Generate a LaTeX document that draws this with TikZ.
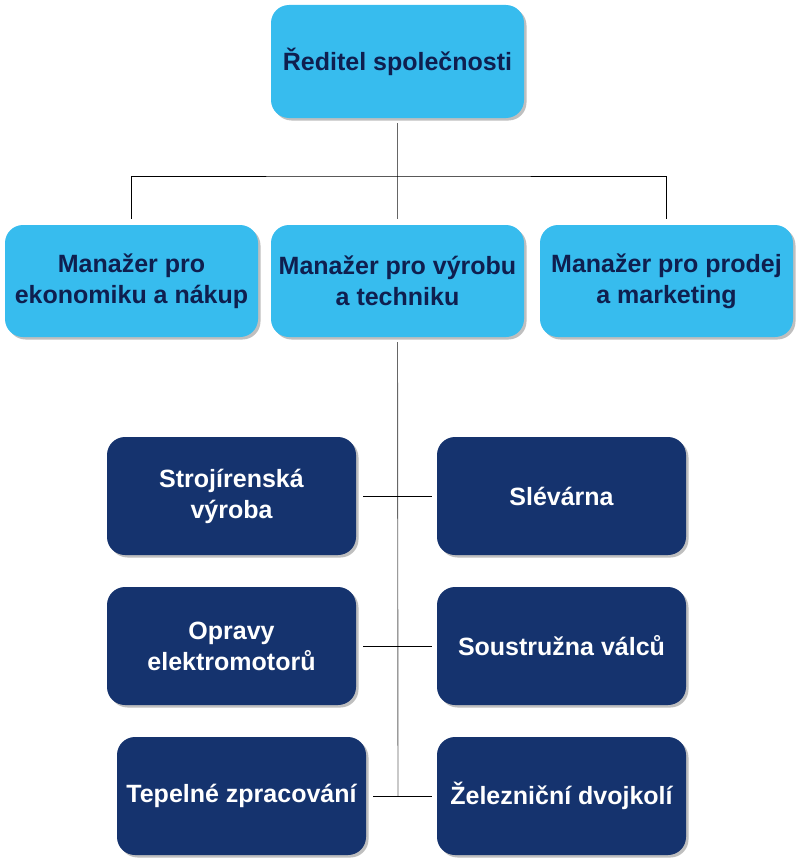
\documentclass[tikz,border=0pt]{standalone}
\usepackage{fontspec}
\setmainfont{Liberation Sans}
\usepackage{tikz}
\usetikzlibrary{positioning}
\usetikzlibrary{shadows}
\definecolor{svetla}{HTML}{37BCEE}
\definecolor{tmava}{HTML}{15336E}
\definecolor{pismo}{HTML}{0F1F4F}

\begin{document}
\begin{tikzpicture}[x=1pt,y=-1pt,
        vedeni/.style={rectangle, rounded corners=18pt, fill=svetla, text=pismo,
            minimum width=253pt, minimum height=112pt, align=center,
            font=\fontsize{25}{31}\selectfont\bfseries,
            drop shadow={shadow xshift=2.5pt, shadow yshift=-2.5pt, fill=black!25, opacity=1}},
        provoz/.style={vedeni, fill=tmava, text=white, minimum width=249pt, minimum height=118pt},
        svisla/.style={draw=black!60, line width=0.9pt},
        vodorovna/.style={draw=black, line width=0.9pt}]
            \useasboundingbox (0,0) rectangle (802,867);

            \node[vedeni, minimum height=113pt] (reditel) at (397.5,61.5) {Ředitel společnosti};
            \node[vedeni] (ekonom) at (131.5,281) {Manažer pro\\ekonomiku a nákup};
            \node[vedeni] (vyroba) at (397.5,281) {Manažer pro výrobu\\a techniku};
            \node[vedeni] (prodej) at (666.5,281) {Manažer pro prodej\\a marketing};

            \node[provoz] (stroj) at (231.5,496) {Strojírenská\\výroba};
            \node[provoz] (slev) at (561.5,496) {Slévárna};
            \node[provoz] (opravy) at (231.5,646) {Opravy\\elektromotorů};
            \node[provoz] (soustr) at (561.5,646) {Soustružna válců};
            \node[provoz] (tepel) at (241.5,796) {Tepelné zpracování};
            \node[provoz] (dvoj) at (561.5,796) {Železniční dvojkolí};

            \coordinate (uzel) at (398,176);
            \draw[svisla] ([yshift=-5pt]reditel.south) -- ([yshift=6pt]vyroba.north);
            \draw[vodorovna] ([yshift=6pt]ekonom.north) |- (uzel) -| ([yshift=6pt]prodej.north);

            \coordinate (konec) at (398,796);
            \draw[svisla] ([yshift=-5pt]vyroba.south) -- (konec);
            \draw[vodorovna] ([xshift=7pt]stroj.east) -- ([xshift=-5pt]slev.west);
            \draw[vodorovna] ([xshift=7pt]opravy.east) -- ([xshift=-5pt]soustr.west);
            \draw[vodorovna] ([xshift=7pt]tepel.east) -- ([xshift=-5pt]dvoj.west);
\end{tikzpicture}
\end{document}
